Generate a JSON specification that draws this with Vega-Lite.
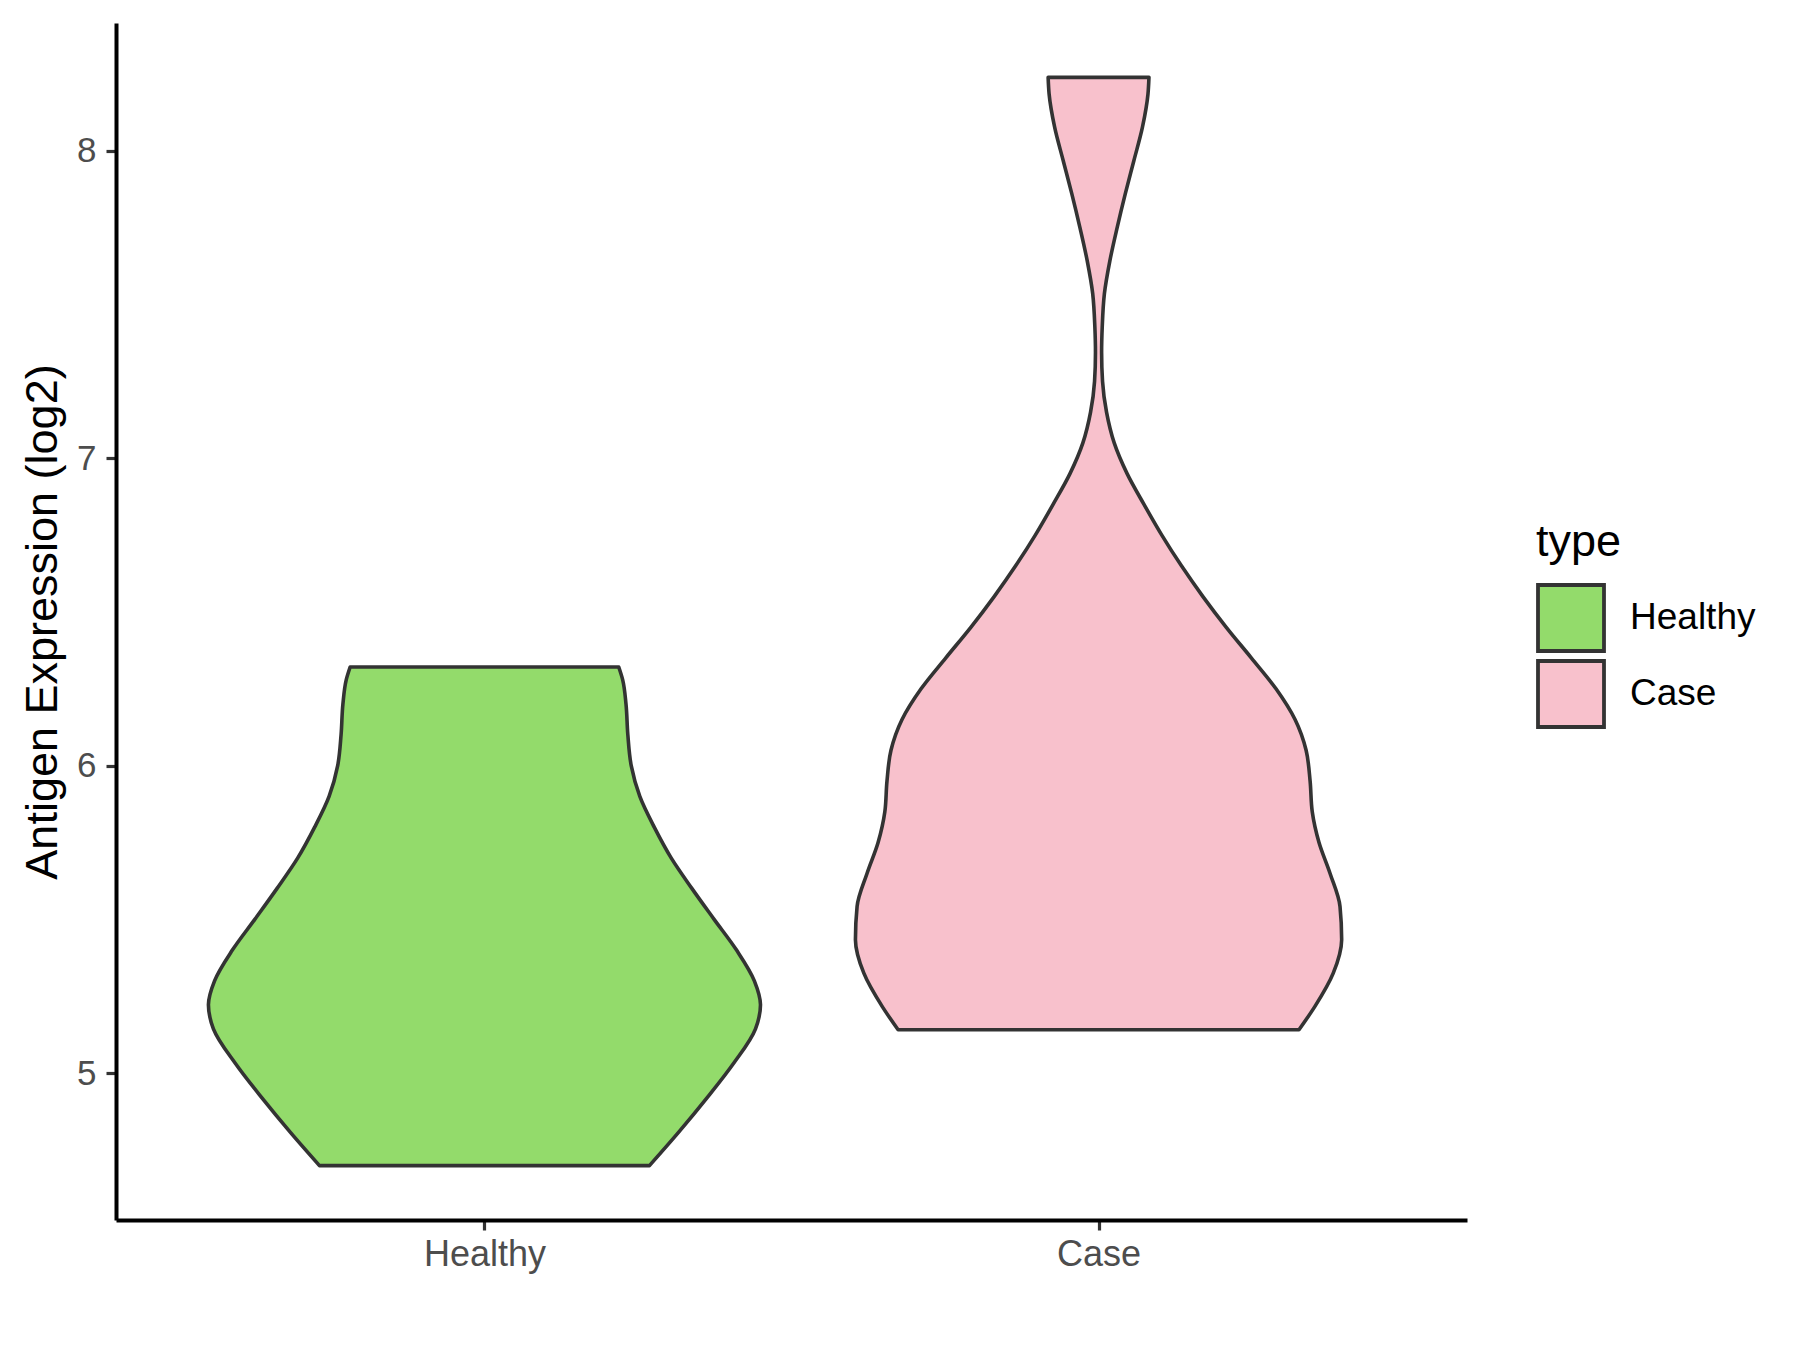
{
  "$schema": "https://vega.github.io/schema/vega-lite/v6.json",
  "autosize": {"type": "none"},
  "width": 1351,
  "height": 1197,
  "padding": {"left": 116, "top": 23, "right": 333, "bottom": 130},
  "background": "white",
  "config": {
    "font": "Liberation Sans",
    "view": {"stroke": null},
    "axis": {"grid": false}
  },
  "data": {
    "values": [
      {"type": "Healthy", "value": 6.321, "lo": 0.7813, "hi": 1.2187},
      {"type": "Healthy", "value": 6.28, "lo": 0.775, "hi": 1.225},
      {"type": "Healthy", "value": 6.2, "lo": 0.7695, "hi": 1.2305},
      {"type": "Healthy", "value": 6.1, "lo": 0.7665, "hi": 1.2335},
      {"type": "Healthy", "value": 6.0, "lo": 0.761, "hi": 1.239},
      {"type": "Healthy", "value": 5.9, "lo": 0.747, "hi": 1.253},
      {"type": "Healthy", "value": 5.8, "lo": 0.7235, "hi": 1.2765},
      {"type": "Healthy", "value": 5.7, "lo": 0.696, "hi": 1.304},
      {"type": "Healthy", "value": 5.6, "lo": 0.662, "hi": 1.338},
      {"type": "Healthy", "value": 5.5, "lo": 0.626, "hi": 1.374},
      {"type": "Healthy", "value": 5.4, "lo": 0.5895, "hi": 1.4105},
      {"type": "Healthy", "value": 5.3, "lo": 0.5605, "hi": 1.4395},
      {"type": "Healthy", "value": 5.222, "lo": 0.5505, "hi": 1.4495},
      {"type": "Healthy", "value": 5.144, "lo": 0.5586, "hi": 1.4414},
      {"type": "Healthy", "value": 5.031, "lo": 0.5945, "hi": 1.4055},
      {"type": "Healthy", "value": 4.92, "lo": 0.6373, "hi": 1.3627},
      {"type": "Healthy", "value": 4.807, "lo": 0.684, "hi": 1.316},
      {"type": "Healthy", "value": 4.699, "lo": 0.7313, "hi": 1.2687},
      {"type": "Case", "value": 8.239, "lo": 1.9179, "hi": 2.0821},
      {"type": "Case", "value": 8.185, "lo": 1.9195, "hi": 2.0805},
      {"type": "Case", "value": 8.077, "lo": 1.9285, "hi": 2.0715},
      {"type": "Case", "value": 7.968, "lo": 1.9425, "hi": 2.0575},
      {"type": "Case", "value": 7.86, "lo": 1.9565, "hi": 2.0435},
      {"type": "Case", "value": 7.752, "lo": 1.9695, "hi": 2.0305},
      {"type": "Case", "value": 7.643, "lo": 1.9815, "hi": 2.0185},
      {"type": "Case", "value": 7.535, "lo": 1.9905, "hi": 2.0095},
      {"type": "Case", "value": 7.427, "lo": 1.994, "hi": 2.006},
      {"type": "Case", "value": 7.345, "lo": 1.995, "hi": 2.005},
      {"type": "Case", "value": 7.25, "lo": 1.9935, "hi": 2.0065},
      {"type": "Case", "value": 7.15, "lo": 1.987, "hi": 2.013},
      {"type": "Case", "value": 7.05, "lo": 1.9745, "hi": 2.0255},
      {"type": "Case", "value": 6.95, "lo": 1.9535, "hi": 2.0465},
      {"type": "Case", "value": 6.85, "lo": 1.926, "hi": 2.074},
      {"type": "Case", "value": 6.75, "lo": 1.897, "hi": 2.103},
      {"type": "Case", "value": 6.65, "lo": 1.865, "hi": 2.135},
      {"type": "Case", "value": 6.55, "lo": 1.83, "hi": 2.17},
      {"type": "Case", "value": 6.45, "lo": 1.792, "hi": 2.208},
      {"type": "Case", "value": 6.35, "lo": 1.751, "hi": 2.249},
      {"type": "Case", "value": 6.25, "lo": 1.711, "hi": 2.289},
      {"type": "Case", "value": 6.15, "lo": 1.68, "hi": 2.32},
      {"type": "Case", "value": 6.05, "lo": 1.662, "hi": 2.338},
      {"type": "Case", "value": 5.95, "lo": 1.6555, "hi": 2.3445},
      {"type": "Case", "value": 5.85, "lo": 1.652, "hi": 2.348},
      {"type": "Case", "value": 5.75, "lo": 1.641, "hi": 2.359},
      {"type": "Case", "value": 5.65, "lo": 1.6231, "hi": 2.3769},
      {"type": "Case", "value": 5.542, "lo": 1.6068, "hi": 2.3932},
      {"type": "Case", "value": 5.434, "lo": 1.6041, "hi": 2.3959},
      {"type": "Case", "value": 5.325, "lo": 1.6178, "hi": 2.3822},
      {"type": "Case", "value": 5.217, "lo": 1.6476, "hi": 2.3524},
      {"type": "Case", "value": 5.141, "lo": 1.6736, "hi": 2.3264}
    ]
  },
  "mark": {
    "type": "area",
    "orient": "horizontal",
    "interpolate": "monotone",
    "stroke": "#333333",
    "strokeWidth": 3.6,
    "strokeJoin": "round",
    "opacity": 1,
    "fillOpacity": 1
  },
  "encoding": {
    "y": {
      "field": "value",
      "type": "quantitative",
      "scale": {"domain": [4.522, 8.416], "nice": false, "zero": false},
      "axis": {
        "title": "Antigen Expression (log2)",
        "titleFontSize": 45,
        "titleFontWeight": "normal",
        "titleColor": "black",
        "titlePadding": 11,
        "values": [5, 6, 7, 8],
        "format": "d",
        "labelFontSize": 35,
        "labelColor": "#4D4D4D",
        "labelPadding": 10,
        "tickSize": 10,
        "tickWidth": 3.2,
        "tickColor": "#333333",
        "domainColor": "black",
        "domainWidth": 4
      }
    },
    "x": {
      "field": "lo",
      "type": "quantitative",
      "scale": {"domain": [0.4, 2.6], "nice": false, "zero": false},
      "axis": {
        "title": null,
        "values": [1, 2],
        "labelExpr": "datum.value == 1 ? 'Healthy' : 'Case'",
        "labelFontSize": 36,
        "labelColor": "#4D4D4D",
        "labelPadding": 7,
        "tickSize": 10,
        "tickWidth": 3.2,
        "tickColor": "#333333",
        "domainColor": "black",
        "domainWidth": 4
      }
    },
    "x2": {"field": "hi"},
    "color": {
      "field": "type",
      "type": "nominal",
      "scale": {"domain": ["Healthy", "Case"], "range": ["#93DB6B", "#F8C1CC"]},
      "legend": {
        "title": "type",
        "orient": "none",
        "legendX": 1420,
        "legendY": 497,
        "titleFontSize": 45,
        "titleFontWeight": "normal",
        "titleColor": "black",
        "titlePadding": 18,
        "labelFontSize": 37,
        "labelColor": "black",
        "labelOffset": 24,
        "symbolType": "square",
        "symbolSize": 4356,
        "symbolStrokeColor": "#333333",
        "symbolStrokeWidth": 3.8,
        "symbolOpacity": 1,
        "rowPadding": -10
      }
    }
  }
}
